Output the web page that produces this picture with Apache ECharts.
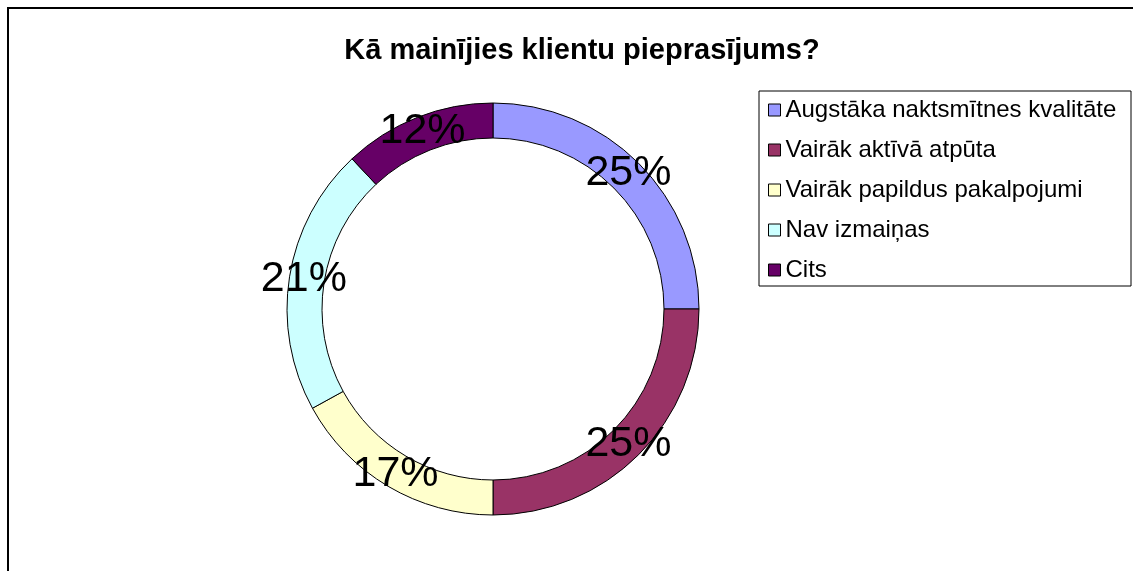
<!DOCTYPE html>
<html>
<head>
<meta charset="utf-8">
<script src="https://cdn.jsdelivr.net/npm/echarts@6/dist/echarts.min.js"></script>
<style>
  html, body { margin: 0; padding: 0; background: #fff; }
  #chart { width: 1133px; height: 571px; }
</style>
</head>
<body>
<div id="chart"></div>
<script>
// data
const categories = [
    'Augstāka naktsmītnes kvalitāte',
    'Vairāk aktīvā atpūta',
    'Vairāk papildus pakalpojumi',
    'Nav izmaiņas',
    'Cits'
];
const values = [25, 25, 17, 21, 12];
const colors = ['#9999FF', '#993366', '#FFFFCC', '#CCFFFF', '#660066'];

const font = '"Liberation Sans", Arial, sans-serif';

const chart = echarts.init(document.getElementById('chart'));

const option = {
    backgroundColor: '#ffffff',
    animation: false,
    title: {
        text: 'Kā mainījies klientu pieprasījums?',
        left: 577,
        top: 31,
        textAlign: 'center',
        textStyle: { fontFamily: font, fontSize: 29, fontWeight: 'bold', color: '#000' }
    },
    legend: {
        orient: 'vertical',
        left: 763,
        top: 93,
        itemWidth: 12,
        itemHeight: 12,
        itemGap: 16,
        icon: 'rect',
        data: categories,
        textStyle: { fontFamily: font, fontSize: 24, color: '#000' },
        itemStyle: { borderColor: '#000', borderWidth: 1 }
    },
    graphic: [
        {
            type: 'rect',
            shape: { x: 8, y: 8, width: 1140, height: 600 },
            style: { fill: 'none', stroke: '#000', lineWidth: 2 },
            silent: true
        },
        {
            type: 'rect',
            shape: { x: 759, y: 91, width: 372, height: 195 },
            style: { fill: 'none', stroke: '#000', lineWidth: 1 },
            silent: true
        }
    ],
    series: [{
        type: 'pie',
        center: [493, 309],
        radius: [171, 206],
        startAngle: 90,
        clockwise: true,
        color: colors,
        itemStyle: { borderColor: '#000', borderWidth: 1 },
        label: {
            show: true,
            position: 'inside',
            formatter: p => p.value + '%',
            fontFamily: font,
            fontSize: 43,
            color: '#000'
        },
        labelLine: { show: false },
        emphasis: { disabled: true },
        data: categories.map((name, i) => ({ name: name, value: values[i] }))
    }]
};

chart.setOption(option);
window.addEventListener('resize', () => chart.resize());
</script>
</body>
</html>
